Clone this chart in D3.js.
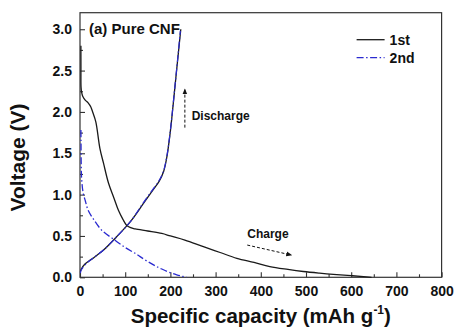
<!DOCTYPE html>
<html>
<head>
<meta charset="utf-8">
<script src="https://cdn.jsdelivr.net/npm/d3@7/dist/d3.min.js"></script>
<style>
  body { margin: 0; background: #fff; }
  svg { display: block; font-family: "Liberation Sans", Arial, sans-serif; font-weight: bold; }
</style>
</head>
<body>
<svg id="chart" width="456" height="328"></svg>
<script>
// 1st cycle, falling branch (mAh/g, V)
const cap1Fall = [2.0, 2.1, 2.3, 3.5, 6, 12, 18, 24, 28, 35, 44, 52, 63, 75, 85, 95, 103, 112, 122, 150, 181, 200, 232, 273, 310, 347, 385, 420, 460, 494, 530, 568, 600, 627, 645];
const volt1Fall = [2.80, 2.55, 2.30, 2.24, 2.19, 2.14, 2.11, 2.06, 2.00, 1.88, 1.56, 1.38, 1.14, 0.96, 0.81, 0.70, 0.63, 0.60, 0.585, 0.56, 0.53, 0.50, 0.45, 0.37, 0.30, 0.23, 0.18, 0.13, 0.095, 0.07, 0.05, 0.032, 0.02, 0.008, 0];
// 1st cycle, rising branch
const cap1Rise = [0.8, 3, 11, 26, 52, 81, 111, 140, 162, 175, 185, 192, 198, 203, 210, 217, 223];
const volt1Rise = [0.07, 0.10, 0.16, 0.22, 0.33, 0.49, 0.67, 0.89, 1.06, 1.16, 1.28, 1.45, 1.68, 1.92, 2.30, 2.68, 3.00];
// 2nd cycle, falling branch
const cap2Fall = [2.0, 2.2, 2.6, 3.5, 7, 12, 18, 29, 48, 77, 100, 122, 133, 150, 166, 177, 195, 214, 228, 236];
const volt2Fall = [1.78, 1.66, 1.40, 1.20, 1.02, 0.92, 0.81, 0.71, 0.57, 0.45, 0.36, 0.29, 0.25, 0.19, 0.14, 0.11, 0.065, 0.03, 0.01, 0];
// 2nd cycle, rising branch
const cap2Rise = [0.8, 3, 11, 26, 52, 81, 111, 140, 162, 175, 185, 192, 198, 203, 210, 217, 222];
const volt2Rise = [0.05, 0.09, 0.15, 0.22, 0.33, 0.49, 0.67, 0.90, 1.07, 1.17, 1.29, 1.46, 1.69, 1.93, 2.31, 2.69, 2.98];

const xTicks = [0, 100, 200, 300, 400, 500, 600, 700, 800];
const yTicks = [0.0, 0.5, 1.0, 1.5, 2.0, 2.5, 3.0];
const seriesNames = ['1st', '2nd'];

const W = 456, H = 328;
const margin = { top: 12.7, right: 14.4, bottom: 50.7, left: 80 };
const iw = W - margin.left - margin.right;
const ih = H - margin.top - margin.bottom;

const svg = d3.select('#chart');
const g = svg.append('g').attr('transform', `translate(${margin.left},${margin.top})`);

const x = d3.scaleLinear().domain([0, 800]).range([0, iw]);
const y = d3.scaleLinear().domain([0, 3.2]).range([ih, 0]);

const defs = svg.append('defs');
defs.append('marker')
  .attr('id', 'arrow')
  .attr('viewBox', '0 0 10 10')
  .attr('refX', 8).attr('refY', 5)
  .attr('markerWidth', 6).attr('markerHeight', 6)
  .attr('orient', 'auto')
  .append('path')
  .attr('d', 'M0,1 L10,5 L0,9 Z')
  .attr('fill', '#111');

// minor ticks
g.append('g')
  .attr('transform', `translate(0,${ih})`)
  .call(d3.axisBottom(x).tickValues(d3.range(50, 800, 100)).tickSize(-3).tickFormat(''))
  .call(a => a.select('.domain').remove());
g.append('g')
  .call(d3.axisLeft(y).tickValues(d3.range(0.25, 3.2, 0.5)).tickSize(-3).tickFormat(''))
  .call(a => a.select('.domain').remove());

const xAxis = g.append('g')
  .attr('transform', `translate(0,${ih})`)
  .call(d3.axisBottom(x).tickValues(xTicks).tickSize(-5).tickPadding(9).tickFormat(d3.format('d')));
const yAxis = g.append('g')
  .call(d3.axisLeft(y).tickValues(yTicks).tickSize(-5).tickPadding(8).tickFormat(d3.format('.1f')));

g.selectAll('.tick line').attr('stroke', '#333').attr('stroke-width', 1.1);
g.selectAll('.domain').remove();
[xAxis, yAxis].forEach(a => a.selectAll('text')
  .style('font-size', '14px').style('font-weight', 'bold')
  .style('font-family', '"Liberation Sans", Arial, sans-serif').attr('fill', '#111'));

// frame
g.append('rect')
  .attr('width', iw).attr('height', ih)
  .attr('fill', 'none').attr('stroke', '#333').attr('stroke-width', 1.2);

const lineY = d3.line().x(d => x(d[0])).y(d => y(d[1])).curve(d3.curveCatmullRom.alpha(0.5));
const zip = (a, b) => a.map((v, i) => [v, b[i]]);

const blue = '#2a2ad0';
const dashDot = '7,2.5,1.5,2.5';

g.append('path').datum(zip(cap2Fall, volt2Fall)).attr('d', lineY)
  .attr('fill', 'none').attr('stroke', blue).attr('stroke-width', 1.3).attr('stroke-dasharray', dashDot);
g.append('path').datum(zip(cap1Fall, volt1Fall)).attr('d', lineY)
  .attr('fill', 'none').attr('stroke', '#1a1a1a').attr('stroke-width', 1.3);
g.append('path').datum(zip(cap1Rise, volt1Rise)).attr('d', lineY)
  .attr('fill', 'none').attr('stroke', '#1a1a1a').attr('stroke-width', 1.3);
g.append('path').datum(zip(cap2Rise, volt2Rise)).attr('d', lineY)
  .attr('fill', 'none').attr('stroke', blue).attr('stroke-width', 1.2).attr('stroke-dasharray', dashDot);

// legend
const legend = g.append('g').attr('transform', `translate(${iw - 85},${27})`);
seriesNames.forEach((name, i) => {
  const row = legend.append('g').attr('transform', `translate(0,${i * 18})`);
  row.append('line').attr('x1', 0).attr('x2', 28).attr('y1', 0).attr('y2', 0)
    .attr('stroke', i === 0 ? '#1a1a1a' : blue).attr('stroke-width', 1.3)
    .attr('stroke-dasharray', i === 0 ? null : dashDot);
  row.append('text').attr('x', 33).attr('y', 5).attr('font-size', 14).attr('fill', '#111').text(name);
});

// panel title
g.append('text').attr('x', 9).attr('y', 21).attr('font-size', 15).attr('fill', '#111').text('(a) Pure CNF');

// annotations
g.append('line')
  .attr('x1', x(232)).attr('y1', y(1.81)).attr('x2', x(232)).attr('y2', y(2.27))
  .attr('stroke', '#111').attr('stroke-width', 1).attr('stroke-dasharray', '3,2')
  .attr('marker-end', 'url(#arrow)');
g.append('text').attr('x', x(247)).attr('y', y(1.9)).attr('font-size', 12).attr('fill', '#111').text('Discharge');

g.append('line')
  .attr('x1', x(370)).attr('y1', y(0.39)).attr('x2', x(467)).attr('y2', y(0.27))
  .attr('stroke', '#111').attr('stroke-width', 1).attr('stroke-dasharray', '3,2')
  .attr('marker-end', 'url(#arrow)');
g.append('text').attr('x', x(370)).attr('y', y(0.475)).attr('font-size', 12).attr('fill', '#111').text('Charge');

// axis titles
const xt = svg.append('text')
  .attr('x', margin.left + iw / 2).attr('y', 323)
  .attr('text-anchor', 'middle').attr('font-size', 20.5).attr('fill', '#111');
xt.append('tspan').text('Specific capacity (mAh g');
xt.append('tspan').attr('font-size', 12).attr('dy', -9).text('-1');
xt.append('tspan').attr('dy', 9).text(')');

svg.append('text')
  .attr('transform', 'translate(25,157.5) rotate(-90)')
  .attr('text-anchor', 'middle').attr('font-size', 21).attr('fill', '#111')
  .text('Voltage (V)');
</script>
</body>
</html>
